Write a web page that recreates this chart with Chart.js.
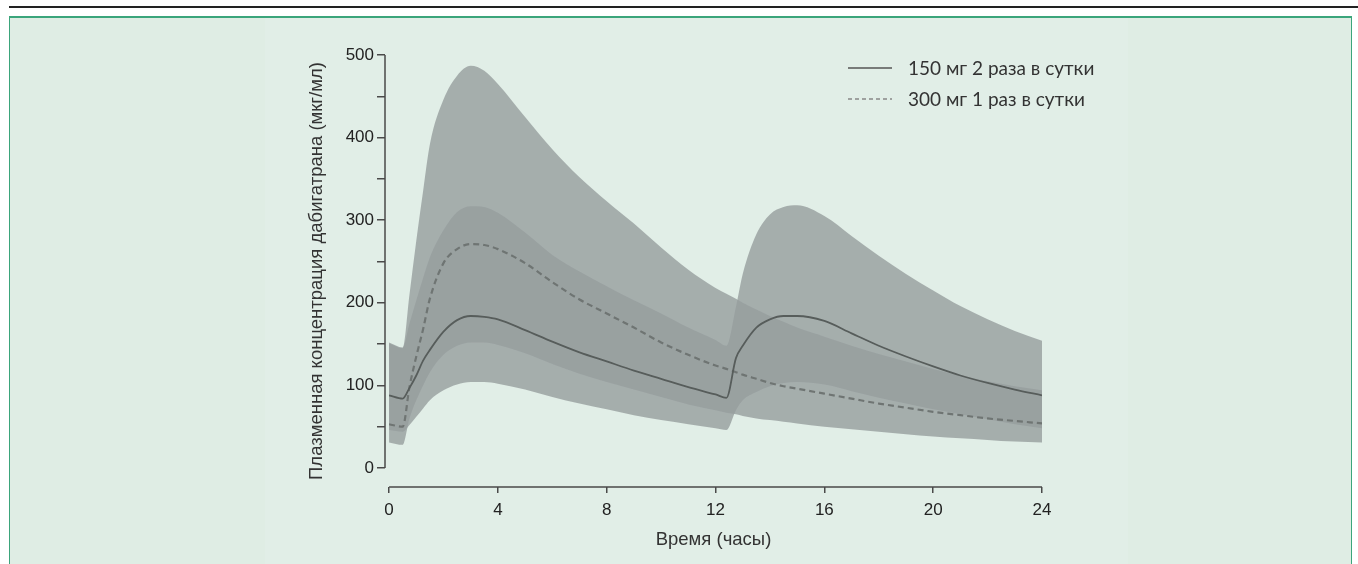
<!DOCTYPE html>
<html lang="ru">
<head>
<meta charset="utf-8">
<title>Концентрация дабигатрана</title>
<script src="https://cdn.jsdelivr.net/npm/chart.js@4.4.1/dist/chart.umd.min.js"></script>
<style>
  html, body { margin: 0; padding: 0; width: 1358px; height: 564px; overflow: hidden; background: #fff; }
  .topline { position: absolute; left: 9px; right: 0; top: 6px; height: 2px; background: #222; }
  .panel { position: absolute; left: 9px; top: 16px; width: 1343px; height: 560px; box-sizing: border-box;
           background: #dfede4; border-top: 2px solid #3ba57b; border-left: 1px solid #3ba57b; border-right: 1px solid #3ba57b; }
  .inner { position: absolute; left: 265px; top: 18px; width: 863px; height: 546px; background: #e1eee7; }
  .chart-wrap { position: absolute; left: 0; top: 0; width: 1358px; height: 564px; }
  #legend { position: absolute; left: 848px; top: 52px; font-family: 'Lato', 'Open Sans', sans-serif; font-size: 19px; color: #333; }
  #legend .item { height: 31px; display: flex; align-items: center; }
  #legend svg { margin-right: 16px; }
</style>
</head>
<body>
<div class="topline"></div>
<div class="panel"></div>
<div class="inner"></div>
<div class="chart-wrap"><canvas id="pk-chart"></canvas></div>
<div id="legend">
  <div class="item"><svg width="44" height="4"><line x1="0" y1="2" x2="44" y2="2" stroke="#555" stroke-width="1.5"/></svg>150 мг 2 раза в сутки</div>
  <div class="item"><svg width="44" height="4"><line x1="0" y1="2" x2="44" y2="2" stroke="#888" stroke-width="1.5" stroke-dasharray="4 3"/></svg>300 мг 1 раз в сутки</div>
</div>
<script>
const chartCanvas = document.getElementById('pk-chart');

// time points, hours
const hours = [0, 0.5, 0.75, 1, 1.25, 1.5, 2, 2.5, 3, 3.5,
               4, 5, 6, 7, 8, 9, 10, 11, 12,
               12.4, 12.75, 13, 13.5, 14, 14.5, 15,
               16, 17, 18, 19, 20, 21, 22, 23, 24];

// 150 mg twice daily
const dose150Median = [88, 84, 97, 112, 130, 143, 165, 179, 184, 183,
                       180, 167, 153, 140, 129, 118, 108, 98, 89,
                       85, 133, 148, 170, 180, 184, 184,
                       178, 163, 148, 135, 123, 112, 103, 95, 88];
const dose150Upper = [152, 146, 175, 203, 230, 255, 288, 310, 317, 316,
                      309, 285, 258, 238, 220, 203, 187, 170, 155,
                      148, 195, 235, 283, 307, 316, 318,
                      305, 281, 257, 235, 215, 196, 180, 166, 154];
const dose150Lower = [46, 44, 52, 62, 72, 82, 94, 101, 104, 104,
                      102, 95, 86, 78, 71, 64, 58, 53, 48,
                      46, 70, 82, 92, 99, 103, 104,
                      101, 93, 85, 78, 71, 65, 59, 53, 48];

// 300 mg once daily
const dose300Median = [53, 50, 98, 135, 168, 205, 248, 265, 271, 270,
                       265, 248, 225, 204, 187, 170, 152, 137, 124,
                       120, 116, 113, 108, 103, 99, 96,
                       90, 84, 78, 73, 68, 64, 60, 57, 54];
const dose300Upper = [151, 145, 210, 275, 335, 392, 446, 475, 487, 481,
                      465, 425, 386, 352, 323, 296, 267, 240, 218,
                      211, 205, 200, 192, 184, 177, 170,
                      159, 148, 138, 129, 120, 112, 105, 99, 94];
const dose300Lower = [31, 28, 60, 82, 100, 116, 137, 148, 152, 152,
                      149, 139, 126, 114, 104, 95, 86, 77, 70,
                      67, 65, 63, 60, 58, 56, 54,
                      50, 47, 44, 41, 38, 36, 34, 32, 31];

const xTicks = [0, 4, 8, 12, 16, 20, 24];
const yTicks = [0, 50, 100, 150, 200, 250, 300, 350, 400, 450, 500];

const bandColor = 'rgba(150, 158, 157, 0.8)';

function points(values) {
    return hours.map((h, i) => ({ x: h, y: values[i] }));
}

function band(values, fill) {
    return {
        data: points(values),
        fill: fill,
        order: 2,
        backgroundColor: bandColor,
        borderColor: 'rgba(0,0,0,0)',
        borderWidth: 0,
        pointRadius: 0,
        cubicInterpolationMode: 'monotone'
    };
}

// axis lines drawn only over the labelled range, like the original figure
const axisLines = {
    id: 'axisLines',
    afterDraw(chart) {
        const { ctx, chartArea, scales } = chart;
        ctx.save();
        ctx.strokeStyle = '#4a4a4a';
        ctx.lineWidth = 1.5;
        ctx.beginPath();
        ctx.moveTo(chartArea.left, scales.y.getPixelForValue(yTicks[0]));
        ctx.lineTo(chartArea.left, scales.y.getPixelForValue(yTicks[yTicks.length - 1]));
        ctx.moveTo(scales.x.getPixelForValue(xTicks[0]), chartArea.bottom);
        ctx.lineTo(scales.x.getPixelForValue(xTicks[xTicks.length - 1]), chartArea.bottom);
        ctx.stroke();
        ctx.restore();
    }
};

const fontFamily = "'Liberation Sans', Arial, sans-serif";
const tickFont = { family: fontFamily, size: 17 };
const titleFont = { family: fontFamily, size: 18.5 };

new Chart(chartCanvas, {
    type: 'line',
    data: {
        datasets: [
            band(dose300Upper, '+1'),
            band(dose300Lower, false),
            band(dose150Upper, '+1'),
            band(dose150Lower, false),
            {
                label: '150 мг 2 раза в сутки',
                data: points(dose150Median),
                order: 0,
                borderColor: '#575d5b',
                borderWidth: 1.8,
                pointRadius: 0,
                fill: false,
                cubicInterpolationMode: 'monotone'
            },
            {
                label: '300 мг 1 раз в сутки',
                data: points(dose300Median),
                order: 1,
                borderColor: '#6f7573',
                borderWidth: 2.2,
                borderDash: [6, 4],
                pointRadius: 0,
                fill: false,
                cubicInterpolationMode: 'monotone'
            }
        ]
    },
    options: {
        responsive: true,
        maintainAspectRatio: false,
        animation: false,
        layout: { padding: { top: 55, left: 302, right: 316, bottom: 9 } },
        plugins: {
            legend: { display: false },
            tooltip: { enabled: false }
        },
        scales: {
            x: {
                type: 'linear',
                min: -0.15,
                max: 24,
                afterBuildTicks: axis => { axis.ticks = xTicks.map(v => ({ value: v })); },
                afterFit: axis => { axis.height = 68; },
                border: { display: false },
                grid: { drawOnChartArea: false, drawTicks: true, tickLength: 6, color: '#4a4a4a', lineWidth: 1.5 },
                ticks: { autoSkip: false, maxRotation: 0, padding: 7, color: '#222', font: tickFont },
                title: { display: true, text: 'Время (часы)', color: '#333', font: titleFont }
            },
            y: {
                min: -23,
                max: 500,
                afterBuildTicks: axis => { axis.ticks = yTicks.map(v => ({ value: v })); },
                afterFit: axis => { axis.width = 83; },
                border: { display: false },
                grid: { drawOnChartArea: false, drawTicks: true, tickLength: 8, color: '#4a4a4a', lineWidth: 1.5 },
                ticks: {
                    padding: 3,
                    color: '#222',
                    font: tickFont,
                    callback: v => (v % 100 === 0 ? v : '')
                },
                title: { display: true, text: 'Плазменная концентрация дабигатрана (мкг/мл)', color: '#333', font: titleFont }
            }
        }
    },
    plugins: [axisLines]
});
</script>
</body>
</html>
